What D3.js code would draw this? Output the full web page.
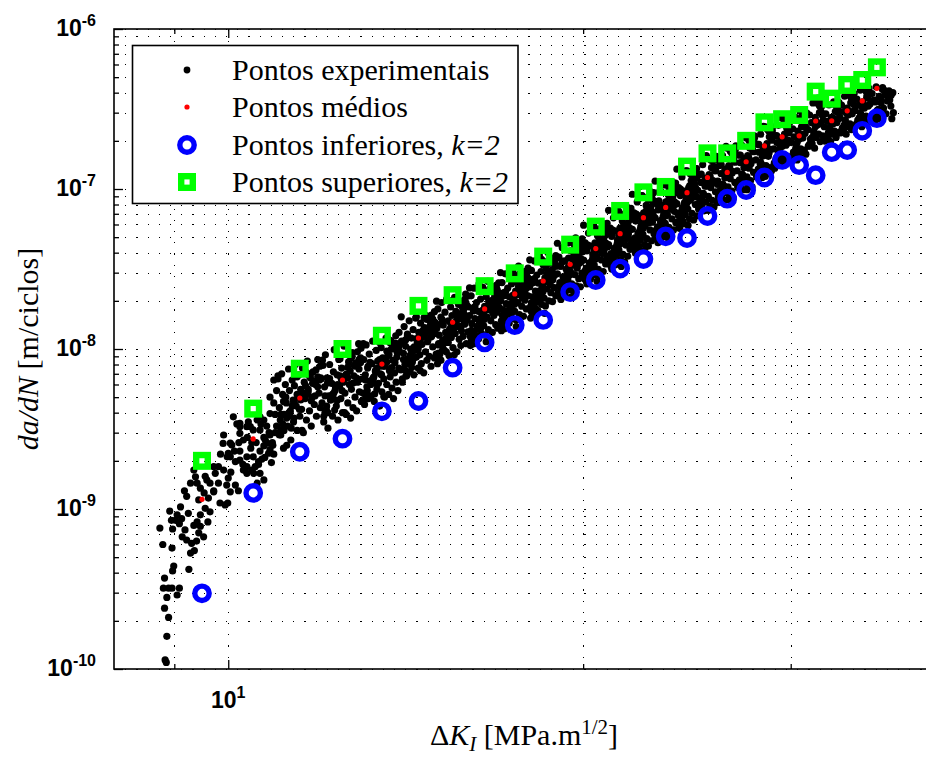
<!DOCTYPE html>
<html lang="pt">
<head>
<meta charset="utf-8">
<title>da/dN x Delta K</title>
<script src="https://cdn.jsdelivr.net/npm/d3@7"></script>
<style>
    body { margin: 0; background: #fff; }
    svg { display: block; }
</style>
</head>
<body>
<script>

    // bin centres (MPa.m^1/2) for the summary points
    var dkBins = [9.5, 10.5, 11.5, 12.5, 13.5, 14.5, 15.5, 16.5, 17.5, 18.5, 19.5, 20.5, 21.5, 22.5,
        23.5, 24.5, 25.5, 26.5, 27.5, 28.5, 29.5, 30.5, 31.5, 32.5, 33.5, 34.5, 35.5];

    // Pontos medios (red)
    var meanVals = [1.15e-9, 2.74e-9, 4.94e-9, 6.40e-9, 8.05e-9, 1.17e-8, 1.47e-8, 1.78e-8, 2.21e-8,
        2.66e-8, 3.38e-8, 4.24e-8, 5.26e-8, 6.62e-8, 7.67e-8, 9.48e-8, 1.18e-7, 1.27e-7, 1.48e-7,
        1.86e-7, 2.12e-7, 2.15e-7, 2.66e-7, 2.67e-7, 3.08e-7, 3.55e-7, 4.26e-7];

    // Pontos inferiores, k=2 (blue)
    var lowerVals = [2.97e-10, 1.26e-9, 2.28e-9, 2.75e-9, 4.08e-9, 4.73e-9, 7.64e-9, 1.10e-8, 1.41e-8,
        1.52e-8, 2.27e-8, 2.70e-8, 3.18e-8, 3.65e-8, 5.06e-8, 4.94e-8, 6.78e-8, 8.70e-8, 9.86e-8,
        1.18e-7, 1.52e-7, 1.41e-7, 1.22e-7, 1.70e-7, 1.75e-7, 2.31e-7, 2.77e-7];

    // Pontos superiores, k=2 (green)
    var upperVals = [2.0e-9, 4.24e-9, 7.53e-9, 1.0e-8, 1.21e-8, 1.86e-8, 2.17e-8, 2.47e-8, 2.97e-8,
        3.78e-8, 4.49e-8, 5.82e-8, 7.29e-8, 9.53e-8, 1.03e-7, 1.38e-7, 1.67e-7, 1.67e-7, 2.0e-7,
        2.61e-7, 2.73e-7, 2.90e-7, 4.06e-7, 3.67e-7, 4.47e-7, 4.80e-7, 5.76e-7];

    // Pontos experimentais [dK, da/dN]
    var expLow = [
        [8.75,7.6e-10],[8.80,6.0e-10],[8.83,3.7e-10],[8.81,3.2e-10],[8.87,2.8e-10],[8.83,2.4e-10],[8.90,2.1e-10],
        [8.87,1.6e-10],[8.84,1.14e-10],[8.86,1.10e-10],[8.92,9.7e-10],[8.95,8.5e-10],[8.97,7.5e-10],[8.96,5.7e-10],
        [8.99,4.4e-10],[8.97,4.1e-10],[8.90,3.2e-10],[8.96,3.2e-10],
        [9.02,8.5e-10],[9.05,9.2e-10],[9.05,2.9e-10],[9.09,3.2e-10],[9.11,1.03e-9],[9.25,9.4e-10],[9.13,8.7e-10],
        [9.09,8.1e-10],[9.19,7.4e-10],[9.14,6.7e-10],[9.22,6.4e-10],[9.31,6.1e-10],[9.36,5.5e-10],[9.29,5.3e-10],
        [9.26,4.2e-10],[9.40,6.3e-10],[9.44,7.1e-10],[9.47,7.8e-10],[9.53,6.7e-10],[9.61,8.3e-10],[9.65,9.6e-10],
        [9.56,1.01e-9],[9.47,9.2e-10],[9.41,8.3e-10],[9.35,7.9e-10],[9.44,1.14e-9],[9.54,1.26e-9],[9.62,1.17e-9],
        [9.72,1.30e-9],[9.47,1.35e-9],[9.41,1.45e-9],[9.29,1.45e-9],[9.38,1.59e-9],[9.59,1.52e-9],[9.75,1.67e-9],
        [9.81,1.84e-9],[9.91,1.75e-9],[9.97,1.41e-9],[9.84,1.09e-9],[9.94,1.06e-9],[9.35,1.75e-9],[9.72,1.84e-9],
        [9.56,1.6e-9],[9.65,1.45e-9],[9.81,1.45e-9],[9.72,1.28e-9],[9.99,1.09e-9],[9.91,2.9e-9],[9.90,2.57e-9],
        [9.98,2.12e-9],[9.85,2.2e-9],[9.22,1.2e-9],[9.18,1.3e-9]
    ];

    var exp10to13 = [
        [10.07,2.51e-9],[10.00,2.23e-9],[10.04,2.12e-9],[10.23,2.02e-9],[10.37,1.84e-9],[10.54,1.84e-9],[10.61,1.98e-9],
        [10.51,1.67e-9],[10.37,1.67e-9],[10.14,1.41e-9],[10.20,1.30e-9],[10.04,1.28e-9],[10.00,1.56e-9],[10.23,3.27e-9],
        [10.44,3.27e-9],[10.40,3.5e-9],[10.17,3.4e-9],[10.64,3.12e-9],[10.72,2.48e-9],[10.82,2.23e-9],[10.93,2.2e-9],
        [10.64,2.3e-9],[10.75,2.7e-9],[10.85,2.9e-9],[10.99,3.3e-9],[10.10,3.77e-9],[10.23,3.43e-9],[10.04,2.58e-9],
        [10.14,1.98e-9],[10.23,2.3e-9],[10.37,2.12e-9],[10.50,2.12e-9],[10.61,1.9e-9],[10.64,1.67e-9],[10.47,1.75e-9],
        [10.30,1.75e-9],[10.72,1.52e-9],[10.58,1.45e-9],[10.23,2.97e-9],[10.37,3.27e-9],[10.50,3.12e-9],[10.72,2.8e-9],
        [10.79,2.58e-9],[10.85,2.35e-9],[10.72,3.6e-9],[10.85,3.95e-9],[10.64,3.77e-9],[10.93,4.6e-9],[10.85,5.0e-9],
        [10.99,5.5e-9],[10.93,6.4e-9],[10.30,2.7e-9],[10.45,2.4e-9],[10.56,2.6e-9],[10.68,2.05e-9],[10.90,2.6e-9],
        [10.96,3.0e-9],[10.78,3.3e-9],[10.88,1.95e-9],
        [11.02,6.8e-9],[11.05,4.3e-9],[11.07,3.6e-9],[11.08,2.9e-9],[11.10,7.0e-9],[11.12,5.2e-9],[11.14,2.4e-9],
        [11.15,3.9e-9],[11.18,6.0e-9],[11.20,4.6e-9],[11.21,2.5e-9],[11.23,3.3e-9],[11.25,7.5e-9],[11.27,5.5e-9],
        [11.28,4.0e-9],[11.30,2.7e-9],[11.33,6.4e-9],[11.35,4.8e-9],[11.36,3.5e-9],[11.38,5.9e-9],[11.40,8.0e-9],
        [11.42,4.4e-9],[11.44,3.1e-9],[11.46,5.1e-9],[11.48,6.9e-9],[11.50,3.8e-9],[11.52,5.6e-9],[11.54,4.2e-9],
        [11.56,7.6e-9],[11.58,3.0e-9],[11.60,6.2e-9],[11.62,4.9e-9],[11.65,3.6e-9],[11.67,8.4e-9],[11.69,5.4e-9],
        [11.72,4.1e-9],[11.74,6.6e-9],[11.76,3.3e-9],[11.78,5.0e-9],[11.80,7.2e-9],[11.83,4.5e-9],[11.86,6.0e-9],
        [11.88,3.8e-9],[11.91,8.6e-9],[11.94,5.3e-9],[11.97,4.3e-9],[11.99,6.5e-9],
        [12.01,4.6e-9],[12.03,7.9e-9],[12.05,3.5e-9],[12.07,5.8e-9],[12.09,9.2e-9],[12.11,4.2e-9],[12.13,6.6e-9],
        [12.15,3.2e-9],[12.17,5.1e-9],[12.19,8.0e-9],[12.22,4.8e-9],[12.24,6.1e-9],[12.26,3.8e-9],[12.28,7.2e-9],
        [12.30,9.9e-9],[12.32,5.5e-9],[12.35,4.4e-9],[12.37,6.9e-9],[12.39,3.6e-9],[12.41,8.6e-9],[12.43,5.9e-9],
        [12.46,4.9e-9],[12.48,7.6e-9],[12.50,4.0e-9],[12.52,6.3e-9],[12.54,1.04e-8],[12.56,5.3e-9],[12.59,3.9e-9],
        [12.61,7.0e-9],[12.63,4.6e-9],[12.65,8.3e-9],[12.67,6.0e-9],[12.70,3.7e-9],[12.72,5.6e-9],[12.74,9.5e-9],
        [12.76,4.3e-9],[12.78,6.8e-9],[12.81,5.0e-9],[12.83,7.8e-9],[12.85,4.1e-9],[12.87,6.2e-9],[12.90,1.08e-8],
        [12.92,5.4e-9],[12.95,8.8e-9],[12.97,4.7e-9],[12.99,6.5e-9]
    ];

    var exp13to16 = [
        [13.01,5.3e-9],[13.03,8.6e-9],[13.05,4.5e-9],[13.07,6.9e-9],[13.09,1.06e-8],[13.11,5.8e-9],[13.13,7.6e-9],
        [13.15,4.9e-9],[13.17,9.3e-9],[13.20,6.3e-9],[13.22,5.1e-9],[13.24,8.1e-9],[13.26,1.12e-8],[13.28,6.6e-9],
        [13.30,4.7e-9],[13.33,7.3e-9],[13.35,9.8e-9],[13.37,5.6e-9],[13.39,8.4e-9],[13.41,6.1e-9],[13.44,4.4e-9],
        [13.46,7.0e-9],[13.48,1.02e-8],[13.50,5.4e-9],[13.52,8.8e-9],[13.55,6.5e-9],[13.57,5.0e-9],[13.59,7.8e-9],
        [13.61,1.17e-8],[13.63,6.0e-9],[13.66,9.1e-9],[13.68,5.2e-9],[13.70,7.3e-9],[13.72,6.7e-9],[13.75,1.0e-8],
        [13.77,5.7e-9],[13.79,8.5e-9],[13.81,4.9e-9],[13.84,7.1e-9],[13.86,1.09e-8],[13.88,6.2e-9],[13.90,8.9e-9],
        [13.93,5.5e-9],[13.95,7.6e-9],[13.98,9.6e-9],
        [14.01,7.4e-9],[14.03,1.12e-8],[14.05,6.2e-9],[14.08,9.4e-9],[14.10,1.38e-8],[14.12,8.0e-9],[14.14,1.04e-8],
        [14.17,6.8e-9],[14.19,1.24e-8],[14.21,8.7e-9],[14.24,1.5e-8],[14.26,7.2e-9],[14.28,1.0e-8],[14.30,1.17e-8],
        [14.33,8.3e-9],[14.35,1.32e-8],[14.37,6.9e-9],[14.40,9.8e-9],[14.42,1.56e-8],[14.44,8.9e-9],[14.47,1.1e-8],
        [14.49,7.6e-9],[14.51,1.27e-8],[14.54,9.2e-9],[14.56,1.45e-8],[14.58,8.1e-9],[14.60,1.07e-8],[14.63,1.2e-8],
        [14.65,7.1e-9],[14.67,1.36e-8],[14.70,9.6e-9],[14.72,1.62e-8],[14.74,8.5e-9],[14.77,1.14e-8],[14.79,1.3e-8],
        [14.81,9.0e-9],[14.84,1.48e-8],[14.86,7.8e-9],[14.88,1.2e-8],[14.91,1.03e-8],[14.93,1.4e-8],[14.96,8.8e-9],
        [14.98,1.25e-8],
        [15.01,9.3e-9],[15.03,1.35e-8],[15.06,1.78e-8],[15.08,1.06e-8],[15.10,1.22e-8],[15.13,8.6e-9],[15.15,1.58e-8],
        [15.17,1.95e-8],[15.20,1.13e-8],[15.22,1.41e-8],[15.25,9.8e-9],[15.27,1.7e-8],[15.29,1.27e-8],[15.32,2.05e-8],
        [15.34,1.1e-8],[15.37,1.5e-8],[15.39,9.1e-9],[15.41,1.33e-8],[15.44,1.83e-8],[15.46,1.18e-8],[15.48,1.62e-8],
        [15.51,1.02e-8],[15.53,1.45e-8],[15.56,2.1e-8],[15.58,1.25e-8],[15.60,1.72e-8],[15.63,9.6e-9],[15.65,1.38e-8],
        [15.68,1.9e-8],[15.70,1.15e-8],[15.72,1.55e-8],[15.75,1.05e-8],[15.77,1.3e-8],[15.80,1.82e-8],[15.82,1.2e-8],
        [15.85,1.65e-8],[15.87,1.43e-8],[15.90,2.2e-8],[15.92,1.08e-8],[15.95,1.52e-8],[15.97,1.28e-8]
    ];

    var exp16to20 = [
        [16.02,1.62e-8],[16.04,1.2e-8],[16.07,2.15e-8],[16.09,1.44e-8],[16.12,1.8e-8],[16.14,1.28e-8],[16.17,2.4e-8],
        [16.19,1.55e-8],[16.22,1.16e-8],[16.24,1.95e-8],[16.27,1.36e-8],[16.30,1.72e-8],[16.32,2.55e-8],[16.35,1.48e-8],
        [16.37,2.05e-8],[16.40,1.25e-8],[16.42,1.66e-8],[16.45,2.3e-8],[16.47,1.4e-8],[16.50,1.85e-8],[16.52,1.22e-8],
        [16.55,2.12e-8],[16.58,1.58e-8],[16.60,2.65e-8],[16.62,1.32e-8],[16.65,1.76e-8],[16.68,2.0e-8],[16.70,1.5e-8],
        [16.73,2.35e-8],[16.75,1.27e-8],[16.78,1.9e-8],[16.80,1.62e-8],[16.83,2.2e-8],[16.86,1.42e-8],[16.88,2.5e-8],
        [16.91,1.7e-8],[16.93,1.35e-8],[16.96,2.02e-8],[16.98,1.82e-8],
        [17.02,2.0e-8],[17.05,1.5e-8],[17.07,2.6e-8],[17.10,1.76e-8],[17.13,2.25e-8],[17.15,1.58e-8],[17.18,2.95e-8],
        [17.21,1.92e-8],[17.23,1.45e-8],[17.26,2.4e-8],[17.29,1.68e-8],[17.31,2.12e-8],[17.34,3.15e-8],[17.37,1.84e-8],
        [17.39,2.55e-8],[17.42,1.55e-8],[17.45,2.05e-8],[17.47,2.78e-8],[17.50,1.72e-8],[17.53,2.3e-8],[17.55,1.52e-8],
        [17.58,2.62e-8],[17.61,1.95e-8],[17.63,3.3e-8],[17.66,1.64e-8],[17.69,2.18e-8],[17.72,2.45e-8],[17.74,1.85e-8],
        [17.77,2.88e-8],[17.80,1.6e-8],[17.82,2.35e-8],[17.85,2.02e-8],[17.88,2.7e-8],[17.90,1.78e-8],[17.93,3.05e-8],
        [17.96,2.15e-8],[17.98,2.5e-8],
        [18.02,2.45e-8],[18.05,1.84e-8],[18.08,3.1e-8],[18.11,2.12e-8],[18.13,2.72e-8],[18.16,1.95e-8],[18.19,3.55e-8],
        [18.22,2.3e-8],[18.25,1.76e-8],[18.27,2.9e-8],[18.30,2.05e-8],[18.33,2.58e-8],[18.36,3.85e-8],[18.39,2.22e-8],
        [18.42,3.05e-8],[18.44,1.9e-8],[18.47,2.48e-8],[18.50,3.35e-8],[18.53,2.08e-8],[18.56,2.78e-8],[18.58,1.86e-8],
        [18.61,3.2e-8],[18.64,2.38e-8],[18.67,4.0e-8],[18.70,2.0e-8],[18.73,2.65e-8],[18.76,2.95e-8],[18.78,2.25e-8],
        [18.81,3.5e-8],[18.84,1.98e-8],[18.87,2.85e-8],[18.90,2.42e-8],[18.93,3.3e-8],[18.96,2.15e-8],[18.98,3.7e-8],
        [19.02,2.95e-8],[19.05,2.25e-8],[19.08,3.75e-8],[19.11,2.6e-8],[19.14,3.3e-8],[19.17,2.4e-8],[19.20,4.3e-8],
        [19.23,2.82e-8],[19.26,2.2e-8],[19.29,3.55e-8],[19.32,2.5e-8],[19.35,3.15e-8],[19.38,4.7e-8],[19.41,2.72e-8],
        [19.44,3.7e-8],[19.47,2.35e-8],[19.50,3.05e-8],[19.53,4.1e-8],[19.56,2.55e-8],[19.59,3.4e-8],[19.62,2.3e-8],
        [19.65,3.9e-8],[19.68,2.92e-8],[19.71,4.95e-8],[19.74,2.48e-8],[19.77,3.25e-8],[19.80,3.6e-8],[19.83,2.75e-8],
        [19.86,4.25e-8],[19.89,2.45e-8],[19.92,3.5e-8],[19.95,2.98e-8],[19.98,4.05e-8]
    ];

    var exp20to25 = [
        [20.02,3.6e-8],[20.05,2.8e-8],[20.08,4.6e-8],[20.12,3.2e-8],[20.15,4.1e-8],[20.18,2.95e-8],[20.21,5.3e-8],
        [20.25,3.45e-8],[20.28,2.72e-8],[20.31,4.4e-8],[20.34,3.1e-8],[20.38,3.9e-8],[20.41,5.8e-8],[20.44,3.35e-8],
        [20.47,4.6e-8],[20.51,2.9e-8],[20.54,3.8e-8],[20.57,5.1e-8],[20.60,3.15e-8],[20.64,4.25e-8],[20.67,2.85e-8],
        [20.70,4.85e-8],[20.73,3.6e-8],[20.77,6.1e-8],[20.80,3.05e-8],[20.83,4.0e-8],[20.86,4.5e-8],[20.90,3.4e-8],
        [20.93,5.4e-8],[20.96,3.7e-8],[20.99,4.35e-8],
        [21.02,4.5e-8],[21.05,3.45e-8],[21.09,5.7e-8],[21.12,3.95e-8],[21.15,5.05e-8],[21.19,3.65e-8],[21.22,6.6e-8],
        [21.25,4.25e-8],[21.29,3.35e-8],[21.32,5.45e-8],[21.35,3.85e-8],[21.39,4.8e-8],[21.42,7.3e-8],[21.45,4.15e-8],
        [21.49,5.7e-8],[21.52,3.6e-8],[21.55,4.7e-8],[21.59,6.3e-8],[21.62,3.9e-8],[21.65,5.25e-8],[21.69,3.5e-8],
        [21.72,6.0e-8],[21.75,4.45e-8],[21.79,7.7e-8],[21.82,3.8e-8],[21.85,4.95e-8],[21.89,5.55e-8],[21.92,4.2e-8],
        [21.95,6.7e-8],[21.98,4.6e-8],
        [22.02,5.6e-8],[22.06,4.3e-8],[22.09,7.1e-8],[22.13,4.95e-8],[22.16,6.3e-8],[22.20,4.55e-8],[22.23,8.3e-8],
        [22.27,5.3e-8],[22.30,4.2e-8],[22.34,6.8e-8],[22.37,4.8e-8],[22.41,6.0e-8],[22.44,9.1e-8],[22.48,5.2e-8],
        [22.51,7.1e-8],[22.55,4.5e-8],[22.58,5.9e-8],[22.62,7.9e-8],[22.65,4.9e-8],[22.69,6.5e-8],[22.72,4.4e-8],
        [22.76,7.5e-8],[22.79,5.55e-8],[22.83,9.6e-8],[22.86,4.75e-8],[22.90,6.2e-8],[22.93,6.9e-8],[22.97,5.25e-8],
        [22.99,8.4e-8],
        [23.02,6.6e-8],[23.06,5.1e-8],[23.09,8.3e-8],[23.13,5.8e-8],[23.16,7.4e-8],[23.20,5.35e-8],[23.23,9.7e-8],
        [23.27,6.2e-8],[23.30,4.95e-8],[23.34,7.9e-8],[23.37,5.6e-8],[23.41,7.0e-8],[23.44,1.06e-7],[23.48,6.1e-8],
        [23.51,8.3e-8],[23.55,5.3e-8],[23.58,6.9e-8],[23.62,9.2e-8],[23.65,5.75e-8],[23.69,7.6e-8],[23.72,5.2e-8],
        [23.76,8.8e-8],[23.79,6.5e-8],[23.83,1.1e-7],[23.86,5.55e-8],[23.90,7.25e-8],[23.93,8.0e-8],[23.97,6.15e-8],
        [24.02,8.1e-8],[24.06,6.2e-8],[24.10,1.02e-7],[24.14,7.1e-8],[24.18,9.1e-8],[24.22,6.5e-8],[24.26,1.19e-7],
        [24.30,7.6e-8],[24.34,6.05e-8],[24.38,9.7e-8],[24.42,6.9e-8],[24.46,8.6e-8],[24.50,1.3e-7],[24.54,7.5e-8],
        [24.58,1.02e-7],[24.62,6.5e-8],[24.66,8.5e-8],[24.70,1.13e-7],[24.74,7.05e-8],[24.78,9.4e-8],[24.82,6.4e-8],
        [24.86,1.08e-7],[24.90,8.0e-8],[24.94,1.34e-7],[24.97,6.8e-8],[24.99,8.9e-8]
    ];

    var exp25to30 = [
        [25.02,9.8e-8],[25.06,7.5e-8],[25.10,1.23e-7],[25.14,8.6e-8],[25.18,1.1e-7],[25.22,7.9e-8],[25.26,1.42e-7],
        [25.30,9.2e-8],[25.34,7.3e-8],[25.38,1.17e-7],[25.42,8.3e-8],[25.46,1.04e-7],[25.50,1.56e-7],[25.54,9.0e-8],
        [25.58,1.23e-7],[25.62,7.8e-8],[25.66,1.02e-7],[25.70,1.36e-7],[25.74,8.5e-8],[25.78,1.13e-7],[25.82,7.7e-8],
        [25.86,1.3e-7],[25.90,9.6e-8],[25.94,1.6e-7],[25.97,8.2e-8],[25.99,1.07e-7],
        [26.02,1.12e-7],[26.06,8.7e-8],[26.10,1.4e-7],[26.14,9.8e-8],[26.18,1.25e-7],[26.22,9.0e-8],[26.26,1.62e-7],
        [26.30,1.05e-7],[26.34,8.5e-8],[26.38,1.33e-7],[26.42,9.5e-8],[26.46,1.18e-7],[26.50,1.8e-7],[26.54,1.03e-7],
        [26.58,1.4e-7],[26.62,8.9e-8],[26.66,1.16e-7],[26.70,1.55e-7],[26.74,9.7e-8],[26.78,1.29e-7],[26.82,8.8e-8],
        [26.86,1.48e-7],[26.90,1.1e-7],[26.95,1.86e-7],
        [27.02,1.3e-7],[27.06,1.02e-7],[27.10,1.63e-7],[27.14,1.14e-7],[27.18,1.46e-7],[27.22,1.05e-7],[27.26,1.88e-7],
        [27.30,1.22e-7],[27.34,9.9e-8],[27.38,1.55e-7],[27.42,1.11e-7],[27.46,1.37e-7],[27.50,2.08e-7],[27.54,1.19e-7],
        [27.58,1.62e-7],[27.62,1.04e-7],[27.66,1.35e-7],[27.70,1.8e-7],[27.74,1.13e-7],[27.78,1.5e-7],[27.82,1.03e-7],
        [27.86,1.72e-7],[27.90,1.27e-7],[27.95,2.15e-7],
        [28.03,1.52e-7],[28.07,1.2e-7],[28.12,1.9e-7],[28.16,1.33e-7],[28.20,1.7e-7],[28.25,1.23e-7],[28.29,2.2e-7],
        [28.33,1.43e-7],[28.38,1.18e-7],[28.42,1.82e-7],[28.46,1.31e-7],[28.51,1.62e-7],[28.55,2.45e-7],[28.59,1.4e-7],
        [28.64,1.92e-7],[28.68,1.25e-7],[28.72,1.6e-7],[28.77,2.12e-7],[28.81,1.36e-7],[28.85,1.77e-7],[28.90,1.3e-7],
        [28.94,2.3e-7],
        [29.03,1.78e-7],[29.07,1.45e-7],[29.12,2.15e-7],[29.16,1.56e-7],[29.20,1.95e-7],[29.25,1.48e-7],[29.29,2.5e-7],
        [29.33,1.68e-7],[29.38,1.42e-7],[29.42,2.08e-7],[29.46,1.55e-7],[29.51,1.85e-7],[29.55,2.75e-7],[29.59,1.64e-7],
        [29.64,2.2e-7],[29.68,1.5e-7],[29.72,1.88e-7],[29.77,2.4e-7],[29.81,1.6e-7],[29.85,2.02e-7],[29.90,1.52e-7],
        [29.94,2.6e-7]
    ];

    var exp30to37 = [
        [30.03,1.95e-7],[30.07,1.55e-7],[30.12,2.38e-7],[30.16,1.7e-7],[30.20,2.12e-7],[30.25,1.6e-7],[30.29,2.8e-7],
        [30.33,1.85e-7],[30.38,1.52e-7],[30.42,2.3e-7],[30.46,1.68e-7],[30.51,2.05e-7],[30.55,3.1e-7],[30.59,1.78e-7],
        [30.64,2.45e-7],[30.68,1.62e-7],[30.72,2.08e-7],[30.77,2.7e-7],[30.81,1.75e-7],[30.85,2.22e-7],[30.90,1.65e-7],
        [30.94,2.95e-7],
        [31.03,2.35e-7],[31.08,1.85e-7],[31.13,2.9e-7],[31.18,2.05e-7],[31.23,2.6e-7],[31.28,1.92e-7],[31.33,3.45e-7],
        [31.38,2.25e-7],[31.43,1.8e-7],[31.48,2.8e-7],[31.53,2.1e-7],[31.58,2.5e-7],[31.63,3.7e-7],[31.68,2.2e-7],
        [31.73,3.0e-7],[31.78,1.98e-7],[31.83,2.55e-7],[31.88,3.3e-7],[31.93,2.15e-7],[31.97,2.7e-7],
        [32.03,2.45e-7],[32.08,2.0e-7],[32.13,2.95e-7],[32.18,2.15e-7],[32.23,2.65e-7],[32.28,2.05e-7],[32.33,3.35e-7],
        [32.38,2.35e-7],[32.43,1.98e-7],[32.48,2.8e-7],[32.53,2.2e-7],[32.58,2.55e-7],[32.63,3.5e-7],[32.68,2.3e-7],
        [32.73,3.05e-7],[32.78,2.1e-7],[32.83,2.6e-7],[32.88,3.2e-7],[32.93,2.25e-7],[32.97,2.75e-7],
        [33.03,2.8e-7],[33.08,2.25e-7],[33.13,3.35e-7],[33.18,2.4e-7],[33.23,3.05e-7],[33.28,2.28e-7],[33.33,3.8e-7],
        [33.38,2.6e-7],[33.43,2.2e-7],[33.48,3.2e-7],[33.53,2.45e-7],[33.58,2.9e-7],[33.63,4.0e-7],[33.68,2.55e-7],
        [33.73,3.45e-7],[33.78,2.35e-7],[33.83,2.95e-7],[33.88,3.65e-7],[33.93,2.5e-7],[33.97,3.1e-7],
        [34.03,3.1e-7],[34.09,2.5e-7],[34.14,3.65e-7],[34.20,2.7e-7],[34.25,3.35e-7],[34.31,2.55e-7],[34.36,4.15e-7],
        [34.42,2.9e-7],[34.47,2.45e-7],[34.53,3.5e-7],[34.58,2.75e-7],[34.64,3.2e-7],[34.69,4.3e-7],[34.75,2.85e-7],
        [34.80,3.75e-7],[34.86,2.6e-7],[34.91,3.3e-7],[34.97,4.0e-7],
        [35.03,3.4e-7],[35.10,2.7e-7],[35.17,3.95e-7],[35.24,2.9e-7],[35.31,3.6e-7],[35.38,2.65e-7],[35.45,4.35e-7],
        [35.52,3.1e-7],[35.59,2.75e-7],[35.66,3.8e-7],[35.73,3.0e-7],[35.80,3.45e-7],[35.88,4.2e-7],[35.96,3.2e-7],
        [36.05,3.9e-7],[36.14,2.95e-7],[36.24,3.55e-7],[36.35,4.1e-7],[36.48,3.3e-7],[36.62,4.0e-7],[36.66,3.0e-7],
        [36.55,2.75e-7]
    ];

    // second pass of readings, filling the dense part of the band
    var expDense = [
        [10.47,2.6e-9],[10.12,2.3e-9],[10.83,3.0e-9],[10.29,1.9e-9],[10.66,3.4e-9],[10.05,1.7e-9],[10.91,2.5e-9],
        [10.38,2.8e-9],[10.74,2.1e-9],[10.21,2.6e-9],[10.58,3.6e-9],[10.96,3.9e-9],
        [11.47,5.0e-9],[11.12,3.4e-9],[11.83,6.3e-9],[11.29,4.1e-9],[11.66,7.1e-9],[11.05,2.9e-9],[11.91,5.8e-9],
        [11.38,4.6e-9],[11.74,6.9e-9],[11.21,3.7e-9],[11.58,5.3e-9],[11.96,7.8e-9],[11.33,4.4e-9],[11.69,5.6e-9],
        [11.15,3.1e-9],[11.52,4.8e-9],[11.87,7.4e-9],[11.08,3.9e-9],[11.44,5.2e-9],[11.79,6.1e-9],[11.26,4.0e-9],
        [11.63,5.9e-9],[11.98,6.6e-9],[11.35,4.5e-9],
        [12.47,6.5e-9],[12.12,4.4e-9],[12.83,8.2e-9],[12.29,5.3e-9],[12.66,9.2e-9],[12.05,3.8e-9],[12.91,7.5e-9],
        [12.38,6.0e-9],[12.74,9.0e-9],[12.21,4.8e-9],[12.58,6.9e-9],[12.96,1.01e-8],[12.33,5.7e-9],[12.69,7.3e-9],
        [12.15,4.0e-9],[12.52,6.2e-9],[12.87,9.6e-9],[12.08,5.1e-9],[12.44,6.8e-9],[12.79,7.9e-9],[12.26,5.2e-9],
        [12.63,7.7e-9],[12.98,8.6e-9],[12.35,5.9e-9],
        [13.47,8.2e-9],[13.12,5.5e-9],[13.83,1.03e-8],[13.29,6.7e-9],[13.66,1.16e-8],[13.05,4.8e-9],[13.91,9.5e-9],
        [13.38,7.6e-9],[13.74,1.13e-8],[13.21,6.0e-9],[13.58,8.7e-9],[13.96,1.27e-8],[13.33,7.2e-9],[13.69,9.2e-9],
        [13.15,5.0e-9],[13.52,7.8e-9],[13.87,1.21e-8],[13.08,6.4e-9],[13.44,8.6e-9],[13.79,1.0e-8],[13.26,6.5e-9],
        [13.63,9.7e-9],[13.98,1.08e-8],[13.35,7.4e-9],
        [14.47,1.1e-8],[14.12,7.4e-9],[14.83,1.39e-8],[14.29,9.0e-9],[14.66,1.57e-8],[14.05,6.5e-9],[14.91,1.28e-8],
        [14.38,1.03e-8],[14.74,1.53e-8],[14.21,8.1e-9],[14.58,1.17e-8],[14.96,1.71e-8],[14.33,9.7e-9],[14.69,1.24e-8],
        [14.15,6.8e-9],[14.52,1.05e-8],[14.87,1.63e-8],[14.08,8.6e-9],[14.44,1.16e-8],[14.79,1.35e-8],[14.26,8.8e-9],
        [14.63,1.31e-8],[14.98,1.46e-8],[14.35,1.0e-8],
        [15.47,1.38e-8],[15.12,9.3e-9],[15.83,1.74e-8],[15.29,1.13e-8],[15.66,1.96e-8],[15.05,8.1e-9],[15.91,1.6e-8],
        [15.38,1.29e-8],[15.74,1.91e-8],[15.21,1.01e-8],[15.58,1.46e-8],[15.96,2.14e-8],[15.33,1.21e-8],[15.69,1.55e-8],
        [15.15,8.5e-9],[15.52,1.31e-8],[15.87,2.04e-8],[15.08,1.08e-8],[15.44,1.45e-8],[15.79,1.69e-8],[15.26,1.1e-8],
        [15.63,1.64e-8],[15.98,1.83e-8],[15.35,1.25e-8],
        [16.47,1.67e-8],[16.12,1.12e-8],[16.83,2.1e-8],[16.29,1.37e-8],[16.66,2.37e-8],[16.05,1.05e-8],[16.91,1.94e-8],
        [16.38,1.56e-8],[16.74,2.31e-8],[16.21,1.22e-8],[16.58,1.77e-8],[16.96,2.59e-8],[16.33,1.46e-8],[16.69,1.88e-8],
        [16.15,1.08e-8],[16.52,1.59e-8],[16.87,2.47e-8],[16.08,1.31e-8],[16.44,1.75e-8],[16.79,2.04e-8],[16.26,1.33e-8],
        [16.63,1.98e-8],[16.98,2.21e-8],[16.35,1.51e-8],
        [17.47,2.07e-8],[17.12,1.39e-8],[17.83,2.6e-8],[17.29,1.7e-8],[17.66,2.94e-8],[17.05,1.3e-8],[17.91,2.41e-8],
        [17.38,1.93e-8],[17.74,2.86e-8],[17.21,1.51e-8],[17.58,2.19e-8],[17.96,3.2e-8],[17.33,1.81e-8],[17.69,2.33e-8],
        [17.15,1.34e-8],[17.52,1.97e-8],[17.87,3.06e-8],[17.08,1.62e-8],[17.44,2.17e-8],[17.79,2.53e-8],[17.26,1.65e-8],
        [17.63,2.46e-8],[17.98,2.74e-8],[17.35,1.87e-8],
        [18.47,2.48e-8],[18.12,1.67e-8],[18.83,3.12e-8],[18.29,2.04e-8],[18.66,3.53e-8],[18.05,1.56e-8],[18.91,2.89e-8],
        [18.38,2.32e-8],[18.74,3.43e-8],[18.21,1.81e-8],[18.58,2.63e-8],[18.96,3.84e-8],[18.33,2.17e-8],[18.69,2.8e-8],
        [18.15,1.61e-8],[18.52,2.36e-8],[18.87,3.67e-8],[18.08,1.94e-8],[18.44,2.6e-8],[18.79,3.04e-8],[18.26,1.98e-8],
        [18.63,2.95e-8],[18.98,3.29e-8],[18.35,2.24e-8],
        [19.47,3.15e-8],[19.12,2.12e-8],[19.83,3.96e-8],[19.29,2.59e-8],[19.66,4.48e-8],[19.05,2.2e-8],[19.91,3.67e-8],
        [19.38,2.95e-8],[19.74,4.36e-8],[19.21,2.3e-8],[19.58,3.34e-8],[19.96,4.88e-8],[19.33,2.76e-8],[19.69,3.56e-8],
        [19.15,2.04e-8],[19.52,3.0e-8],[19.87,4.66e-8],[19.08,2.46e-8],[19.44,3.3e-8],[19.79,3.86e-8],[19.26,2.51e-8],
        [19.63,3.75e-8],[19.98,4.18e-8],[19.35,2.84e-8],
        [20.47,3.94e-8],[20.12,2.65e-8],[20.83,4.95e-8],[20.29,3.24e-8],[20.66,5.6e-8],[20.05,2.75e-8],[20.91,4.59e-8],
        [20.38,3.69e-8],[20.74,5.45e-8],[20.21,2.88e-8],[20.58,4.18e-8],[20.96,6.1e-8],[20.33,3.45e-8],[20.69,4.45e-8],
        [20.15,2.55e-8],[20.52,3.75e-8],[20.87,5.83e-8],[20.08,3.08e-8],[20.44,4.13e-8],[20.79,4.83e-8],[20.26,3.14e-8],
        [20.63,4.69e-8],[20.98,5.23e-8],[20.35,3.55e-8],
        [21.47,4.89e-8],[21.12,3.29e-8],[21.83,6.14e-8],[21.29,4.02e-8],[21.66,6.94e-8],[21.05,3.41e-8],[21.91,5.69e-8],
        [21.38,4.58e-8],[21.74,6.76e-8],[21.21,3.57e-8],[21.58,5.18e-8],[21.96,7.56e-8],[21.33,4.28e-8],[21.69,5.52e-8],
        [21.15,3.16e-8],[21.52,4.65e-8],[21.87,7.23e-8],[21.08,3.82e-8],[21.44,5.12e-8],[21.79,5.99e-8],[21.26,3.89e-8],
        [21.63,5.82e-8],[21.98,6.49e-8],[21.35,4.4e-8],
        [22.47,6.16e-8],[22.12,4.15e-8],[22.83,7.74e-8],[22.29,5.07e-8],[22.66,8.74e-8],[22.05,4.3e-8],[22.91,7.17e-8],
        [22.38,5.77e-8],[22.74,8.52e-8],[22.21,4.5e-8],[22.58,6.53e-8],[22.96,9.5e-8],[22.33,5.39e-8],[22.69,6.96e-8],
        [22.15,3.98e-8],[22.52,5.86e-8],[22.87,9.1e-8],[22.08,4.81e-8],[22.44,6.45e-8],[22.79,7.55e-8],[22.26,4.9e-8],
        [22.63,7.33e-8],[22.98,8.18e-8],[22.35,5.54e-8],
        [23.47,7.15e-8],[23.12,4.81e-8],[23.83,8.98e-8],[23.29,5.88e-8],[23.66,1.01e-7],[23.05,4.99e-8],[23.91,8.32e-8],
        [23.38,6.69e-8],[23.74,9.88e-8],[23.21,5.22e-8],[23.58,7.57e-8],[23.96,1.09e-7],[23.33,6.25e-8],[23.69,8.07e-8],
        [23.15,4.62e-8],[23.52,6.8e-8],[23.87,1.05e-7],[23.08,5.58e-8],[23.44,7.48e-8],[23.79,8.76e-8],[23.26,5.68e-8],
        [23.63,8.5e-8],[23.98,9.49e-8],[23.35,6.43e-8],
        [24.47,8.8e-8],[24.12,5.92e-8],[24.83,1.1e-7],[24.29,7.23e-8],[24.66,1.24e-7],[24.05,6.14e-8],[24.91,1.02e-7],
        [24.38,8.23e-8],[24.74,1.22e-7],[24.21,6.42e-8],[24.58,9.31e-8],[24.96,1.34e-7],[24.33,7.69e-8],[24.69,9.93e-8],
        [24.15,5.68e-8],[24.52,8.36e-8],[24.87,1.29e-7],[24.08,6.86e-8],[24.44,9.2e-8],[24.79,1.08e-7],[24.26,6.99e-8],
        [24.63,1.05e-7],[24.98,1.17e-7],[24.35,7.91e-8],
        [25.47,1.1e-7],[25.12,7.9e-8],[25.83,1.38e-7],[25.29,9.4e-8],[25.66,1.52e-7],[25.05,8.1e-8],[25.91,1.3e-7],
        [25.38,1.04e-7],[25.74,1.5e-7],[25.21,8.6e-8],[25.58,1.2e-7],[25.96,1.58e-7],
        [26.47,1.24e-7],[26.12,9.2e-8],[26.83,1.55e-7],[26.29,1.06e-7],[26.66,1.72e-7],[26.05,9.0e-8],[26.91,1.47e-7],
        [26.38,1.17e-7],[26.74,1.68e-7],[26.21,9.7e-8],[26.58,1.35e-7],[26.96,1.82e-7],
        [27.47,1.45e-7],[27.12,1.07e-7],[27.83,1.8e-7],[27.29,1.24e-7],[27.66,2.0e-7],[27.05,1.05e-7],[27.91,1.71e-7],
        [27.38,1.36e-7],[27.74,1.95e-7],[27.21,1.13e-7],[27.58,1.57e-7],[27.96,2.1e-7],
        [28.47,1.72e-7],[28.12,1.28e-7],[28.83,2.14e-7],[28.29,1.47e-7],[28.66,2.36e-7],[28.05,1.24e-7],[28.91,2.02e-7],
        [28.38,1.6e-7],[28.74,2.3e-7],[28.21,1.33e-7],[28.58,1.85e-7],[28.96,2.45e-7],
        [29.47,1.92e-7],[29.12,1.5e-7],[29.83,2.38e-7],[29.29,1.66e-7],[29.66,2.62e-7],[29.05,1.45e-7],[29.91,2.25e-7],
        [29.38,1.8e-7],[29.74,2.55e-7],[29.21,1.52e-7],[29.58,2.05e-7],[29.96,2.72e-7],
        [30.47,2.08e-7],[30.12,1.58e-7],[30.83,2.55e-7],[30.29,1.78e-7],[30.66,2.85e-7],[30.05,1.55e-7],[30.91,2.42e-7],
        [30.38,1.95e-7],[30.74,2.75e-7],[30.21,1.64e-7],[30.58,2.2e-7],[30.96,2.98e-7],
        [31.47,2.45e-7],[31.12,1.9e-7],[31.83,3.05e-7],[31.29,2.1e-7],[31.66,3.4e-7],[31.05,1.86e-7],[31.91,2.88e-7],
        [31.38,2.3e-7],[31.74,3.3e-7],[31.21,1.96e-7],[31.58,2.62e-7],[31.96,3.55e-7],
        [32.47,2.6e-7],[32.12,2.05e-7],[32.83,3.15e-7],[32.29,2.25e-7],[32.66,3.4e-7],[32.05,2.0e-7],[32.91,3.0e-7],
        [32.38,2.42e-7],[32.74,3.35e-7],[32.21,2.12e-7],[32.58,2.78e-7],[32.96,3.48e-7],
        [33.47,2.95e-7],[33.12,2.3e-7],[33.83,3.55e-7],[33.29,2.5e-7],[33.66,3.85e-7],[33.05,2.25e-7],[33.91,3.38e-7],
        [33.38,2.7e-7],[33.74,3.75e-7],[33.21,2.4e-7],[33.58,3.1e-7],[33.96,3.95e-7],
        [34.47,3.25e-7],[34.12,2.55e-7],[34.83,3.9e-7],[34.29,2.78e-7],[34.66,4.2e-7],[34.05,2.5e-7],[34.91,3.7e-7],
        [34.38,2.98e-7],[34.74,4.1e-7],[34.21,2.62e-7],[34.58,3.4e-7],[34.96,4.25e-7],
        [35.4,3.5e-7],[35.1,2.7e-7],[36.2,3.9e-7],[35.5,2.95e-7],[35.9,4.3e-7],[35.05,2.75e-7],[36.4,3.6e-7],
        [35.6,3.15e-7],[36.0,4.15e-7],[35.3,2.85e-7],[35.8,3.7e-7],[36.5,3.85e-7]
    ];

    // third pass of readings
    var expDense2 = [
        [11.63,5.1e-9],[11.27,3.8e-9],[11.91,6.7e-9],[11.08,3.1e-9],[11.44,6.7e-9],[11.76,4.75e-9],[11.19,5.0e-9],
        [11.55,3.1e-9],[11.02,6.5e-9],[11.85,5.1e-9],[11.37,3.7e-9],[11.71,6.8e-9],[11.14,4.7e-9],[11.49,4.2e-9],
        [11.95,6.4e-9],[11.31,3.2e-9],
        [12.63,6.6e-9],[12.27,4.96e-9],[12.91,8.58e-9],[12.08,4.03e-9],[12.44,8.7e-9],[12.76,6.12e-9],[12.19,6.52e-9],
        [12.55,4.01e-9],[12.02,8.51e-9],[12.85,6.59e-9],[12.37,4.77e-9],[12.71,8.74e-9],[12.14,6.14e-9],[12.49,5.49e-9],
        [12.95,8.22e-9],[12.31,4.15e-9],
        [13.63,8.28e-9],[13.27,6.26e-9],[13.91,1.07e-8],[13.08,5.11e-9],[13.44,1.1e-8],[13.76,7.66e-9],[13.19,8.24e-9],
        [13.55,5.05e-9],[13.02,1.08e-8],[13.85,8.24e-9],[13.37,6.02e-9],[13.71,1.1e-8],[13.14,7.78e-9],[13.49,6.91e-9],
        [13.95,1.03e-8],[13.31,5.24e-9],
        [14.63,1.2e-8],[14.27,9.15e-9],[14.91,1.54e-8],[14.08,7.5e-9],[14.44,1.59e-8],[14.76,1.11e-8],[14.19,1.21e-8],
        [14.55,7.32e-9],[14.02,1.59e-8],[14.85,1.19e-8],[14.37,8.78e-9],[14.71,1.59e-8],[14.14,1.14e-8],[14.49,1.0e-8],
        [14.95,1.48e-8],[14.31,7.65e-9],
        [15.63,1.51e-8],[15.27,1.15e-8],[15.91,1.94e-8],[15.08,9.42e-9],[15.44,2.0e-8],[15.76,1.39e-8],[15.19,1.52e-8],
        [15.55,9.2e-9],[15.02,1.99e-8],[15.85,1.5e-8],[15.37,1.1e-8],[15.71,1.99e-8],[15.14,1.43e-8],[15.49,1.26e-8],
        [15.95,1.86e-8],[15.31,9.61e-9],
        [16.63,1.83e-8],[16.27,1.39e-8],[16.91,2.35e-8],[16.08,1.14e-8],[16.44,2.43e-8],[16.76,1.69e-8],[16.19,1.84e-8],
        [16.55,1.11e-8],[16.02,2.41e-8],[16.85,1.81e-8],[16.37,1.34e-8],[16.71,2.41e-8],[16.14,1.73e-8],[16.49,1.53e-8],
        [16.95,2.25e-8],[16.31,1.16e-8],
        [17.63,2.27e-8],[17.27,1.73e-8],[17.91,2.92e-8],[17.08,1.42e-8],[17.44,3.01e-8],[17.76,2.09e-8],[17.19,2.28e-8],
        [17.55,1.38e-8],[17.02,3.0e-8],[17.85,2.25e-8],[17.37,1.66e-8],[17.71,2.99e-8],[17.14,2.15e-8],[17.49,1.9e-8],
        [17.95,2.79e-8],[17.31,1.45e-8],
        [18.63,2.73e-8],[18.27,2.08e-8],[18.91,3.51e-8],[18.08,1.71e-8],[18.44,3.63e-8],[18.76,2.52e-8],[18.19,2.75e-8],
        [18.55,1.67e-8],[18.02,3.61e-8],[18.85,2.71e-8],[18.37,2.0e-8],[18.71,3.6e-8],[18.14,2.59e-8],[18.49,2.28e-8],
        [18.95,3.36e-8],[18.31,1.74e-8],
        [19.63,3.47e-8],[19.27,2.64e-8],[19.91,4.46e-8],[19.08,2.17e-8],[19.44,4.61e-8],[19.76,3.2e-8],[19.19,3.49e-8],
        [19.55,2.12e-8],[19.02,4.58e-8],[19.85,3.44e-8],[19.37,2.54e-8],[19.71,4.58e-8],[19.14,3.29e-8],[19.49,2.9e-8],
        [19.95,4.27e-8],[19.31,2.21e-8],
        [20.63,4.32e-8],[20.27,3.37e-8],[20.91,5.47e-8],[20.08,2.79e-8],[20.44,5.8e-8],[20.76,3.95e-8],[20.19,4.46e-8],
        [20.55,2.65e-8],[20.02,5.94e-8],[20.85,4.23e-8],[20.37,3.21e-8],[20.71,5.67e-8],[20.14,4.23e-8],[20.49,3.64e-8],
        [20.95,5.23e-8],[20.31,2.81e-8],
        [21.63,5.35e-8],[21.27,4.18e-8],[21.91,6.79e-8],[21.08,3.47e-8],[21.44,7.2e-8],[21.76,4.9e-8],[21.19,5.54e-8],
        [21.55,3.28e-8],[21.02,7.36e-8],[21.85,5.24e-8],[21.37,3.98e-8],[21.71,7.04e-8],[21.14,5.25e-8],[21.49,4.52e-8],
        [21.95,6.49e-8],[21.31,3.48e-8],
        [22.63,6.74e-8],[22.27,5.26e-8],[22.91,8.54e-8],[22.08,4.36e-8],[22.44,9.06e-8],[22.76,6.17e-8],[22.19,6.97e-8],
        [22.55,4.13e-8],[22.02,9.27e-8],[22.85,6.6e-8],[22.37,5.0e-8],[22.71,8.86e-8],[22.14,6.61e-8],[22.49,5.69e-8],
        [22.95,8.16e-8],[22.31,4.38e-8],
        [23.63,8.14e-8],[23.27,6.35e-8],[23.91,1.03e-7],[23.08,5.27e-8],[23.44,1.1e-7],[23.76,7.46e-8],[23.19,8.42e-8],
        [23.55,4.99e-8],[23.02,1.12e-7],[23.85,7.98e-8],[23.37,6.05e-8],[23.71,1.07e-7],[23.14,7.98e-8],[23.49,6.87e-8],
        [23.95,9.86e-8],[23.31,5.3e-8],
        [24.63,9.65e-8],[24.27,7.53e-8],[24.91,1.22e-7],[24.08,6.25e-8],[24.44,1.3e-7],[24.76,8.84e-8],[24.19,9.98e-8],
        [24.55,5.92e-8],[24.02,1.33e-7],[24.85,9.45e-8],[24.37,7.17e-8],[24.71,1.27e-7],[24.14,9.46e-8],[24.49,8.14e-8],
        [24.95,1.17e-7],[24.31,6.28e-8],
        [25.63,1.2e-7],[25.27,9.37e-8],[25.91,1.52e-7],[25.08,7.78e-8],[25.44,1.62e-7],[25.76,1.1e-7],[25.19,1.24e-7],
        [25.55,7.36e-8],
        [26.63,1.37e-7],[26.27,1.07e-7],[26.91,1.74e-7],[26.08,8.9e-8],[26.44,1.85e-7],[26.76,1.26e-7],[26.19,1.42e-7],
        [26.55,8.6e-8],
        [27.63,1.58e-7],[27.27,1.23e-7],[27.91,2.0e-7],[27.08,1.02e-7],[27.44,2.12e-7],[27.76,1.44e-7],[27.19,1.63e-7],
        [27.55,9.9e-8],
        [28.63,1.83e-7],[28.27,1.43e-7],[28.91,2.32e-7],[28.08,1.19e-7],[28.44,2.46e-7],[28.76,1.68e-7],[28.19,1.9e-7],
        [28.55,1.2e-7],
        [29.63,2.09e-7],[29.27,1.63e-7],[29.91,2.64e-7],[29.08,1.35e-7],[29.44,2.8e-7],[29.76,1.91e-7],[29.19,2.16e-7],
        [29.55,1.4e-7]
    ];

    // axis ticks
    var xMajorTicks = [10];
    var xMinorTicks = [9, 20, 30];
    var yDecades = [1e-10, 1e-9, 1e-8, 1e-7, 1e-6];
    var yDecadeExp = ["-10", "-9", "-8", "-7", "-6"];
    var minorMult = [2, 3, 4, 5, 6, 7, 8, 9];

    var legendLabels = ["Pontos experimentais", "Pontos médios", "Pontos inferiores, ", "Pontos superiores, "];

    var w = 926, h = 758;
    var margin = {top: 29, left: 114},
        plotW = 824,
        plotH = 640;

    var serif = "'Liberation Serif', 'Times New Roman', serif";
    var sans = "'Liberation Sans', Arial, Helvetica, sans-serif";

    var svg = d3.select("body").append("svg")
        .attr("width", w)
        .attr("height", h);

    var xScale = d3.scaleLog()
        .domain([8, 40])
        .range([margin.left, margin.left + plotW]);

    var yScale = d3.scaleLog()
        .domain([1e-10, 1e-6])
        .range([margin.top + plotH, margin.top]);

    var yMinorTicks = [];
    yDecades.slice(0, 4).forEach(function (d) {
        minorMult.forEach(function (m) { yMinorTicks.push(d * m); });
    });

    //dotted grid
    var gridX = svg.append("g")
        .attr("transform", "translate(0," + (margin.top + plotH) + ")")
        .call(d3.axisBottom(xScale).tickValues(xMajorTicks.concat(xMinorTicks)).tickSize(-plotH).tickFormat(""));
    var gridY = svg.append("g")
        .attr("transform", "translate(" + margin.left + ",0)")
        .call(d3.axisLeft(yScale).tickValues(yDecades.concat(yMinorTicks)).tickSize(-plotW).tickFormat(""));
    [gridX, gridY].forEach(function (g) {
        g.select(".domain").remove();
        g.selectAll("line")
            .attr("stroke", "#000")
            .attr("stroke-width", 1)
            .attr("stroke-dasharray", "1.2,10")
            .attr("shape-rendering", "crispEdges");
    });

    //ticks inside the box
    function tickGroup(axis, tx, ty) {
        var g = svg.append("g")
            .attr("transform", "translate(" + tx + "," + ty + ")")
            .call(axis);
        g.select(".domain").remove();
        g.selectAll("line").attr("stroke", "#000").attr("stroke-width", 1.3);
        return g;
    }
    tickGroup(d3.axisBottom(xScale).tickValues(xMajorTicks).tickSize(-9).tickFormat(""), 0, margin.top + plotH);
    tickGroup(d3.axisBottom(xScale).tickValues(xMinorTicks).tickSize(-5).tickFormat(""), 0, margin.top + plotH);
    tickGroup(d3.axisTop(xScale).tickValues(xMajorTicks).tickSize(-9).tickFormat(""), 0, margin.top);
    tickGroup(d3.axisTop(xScale).tickValues(xMinorTicks).tickSize(-5).tickFormat(""), 0, margin.top);
    tickGroup(d3.axisLeft(yScale).tickValues(yDecades).tickSize(-9).tickFormat(""), margin.left, 0);
    tickGroup(d3.axisLeft(yScale).tickValues(yMinorTicks).tickSize(-5).tickFormat(""), margin.left, 0);

    //box
    svg.append("rect")
        .attr("x", margin.left)
        .attr("y", margin.top)
        .attr("width", plotW)
        .attr("height", plotH)
        .attr("fill", "none")
        .attr("stroke", "#000")
        .attr("stroke-width", 1.6);

    //y tick labels 10^n
    var yLab = svg.append("g").selectAll("text")
        .data(yDecades)
        .enter()
        .append("text")
        .attr("x", 96)
        .attr("y", function (d) { return yScale(d) + 7; })
        .attr("text-anchor", "end")
        .style("font-family", sans)
        .style("font-weight", "bold")
        .style("font-size", "23px");
    yLab.append("tspan").text("10");
    yLab.append("tspan")
        .attr("dy", -10)
        .style("font-size", "16px")
        .text(function (d, i) { return yDecadeExp[i]; });

    //x tick label
    var xLab = svg.append("g").selectAll("text")
        .data(xMajorTicks)
        .enter()
        .append("text")
        .attr("x", function (d) { return xScale(d); })
        .attr("y", 708)
        .attr("text-anchor", "middle")
        .style("font-family", sans)
        .style("font-weight", "bold")
        .style("font-size", "23px");
    xLab.append("tspan").text("10");
    xLab.append("tspan").attr("dy", -10).style("font-size", "16px").text("1");

    //axis titles
    var xTitle = svg.append("text")
        .attr("x", 524)
        .attr("y", 745)
        .attr("text-anchor", "middle")
        .style("font-family", serif)
        .style("font-size", "30px");
    xTitle.append("tspan").text("\u0394");
    xTitle.append("tspan").style("font-style", "italic").text("K");
    xTitle.append("tspan").attr("dy", 6).style("font-style", "italic").style("font-size", "21px").text("I");
    xTitle.append("tspan").attr("dy", -6).text(" [MPa.m");
    xTitle.append("tspan").attr("dy", -11).style("font-size", "21px").text("1/2");
    xTitle.append("tspan").attr("dy", 11).text("]");

    var yTitle = svg.append("text")
        .attr("transform", "translate(38," + (margin.top + plotH / 2) + ") rotate(-90)")
        .attr("text-anchor", "middle")
        .style("font-family", serif)
        .style("font-size", "30px");
    yTitle.append("tspan").style("font-style", "italic").text("da/dN");
    yTitle.append("tspan").text(" [m/ciclos]");

    //data
    var plot = svg.append("g");

    var allExp = expLow.concat(exp10to13, exp13to16, exp16to20, exp20to25, exp25to30, exp30to37, expDense, expDense2);

    plot.selectAll("circle.exp")
        .data(allExp)
        .enter()
        .append("circle")
        .attr("class", "exp")
        .attr("cx", function (d) { return xScale(d[0]); })
        .attr("cy", function (d) { return yScale(d[1]); })
        .attr("r", 3.6)
        .attr("fill", "#000");

    plot.selectAll("circle.mean")
        .data(meanVals)
        .enter()
        .append("circle")
        .attr("class", "mean")
        .attr("cx", function (d, i) { return xScale(dkBins[i]); })
        .attr("cy", function (d) { return yScale(d); })
        .attr("r", 2.6)
        .attr("fill", "#ff0000");

    plot.selectAll("circle.low")
        .data(lowerVals)
        .enter()
        .append("circle")
        .attr("class", "low")
        .attr("cx", function (d, i) { return xScale(dkBins[i]); })
        .attr("cy", function (d) { return yScale(d); })
        .attr("r", 7.2)
        .attr("fill", "none")
        .attr("stroke", "#0000ff")
        .attr("stroke-width", 5.4);

    var sq = 11.6;
    plot.selectAll("rect.up")
        .data(upperVals)
        .enter()
        .append("rect")
        .attr("class", "up")
        .attr("x", function (d, i) { return xScale(dkBins[i]) - sq / 2; })
        .attr("y", function (d) { return yScale(d) - sq / 2; })
        .attr("width", sq)
        .attr("height", sq)
        .attr("fill", "none")
        .attr("stroke", "#00ff00")
        .attr("stroke-width", 6.4);

    //legend
    var leg = svg.append("g");
    leg.append("rect")
        .attr("x", 132.5)
        .attr("y", 45.5)
        .attr("width", 385.5)
        .attr("height", 158)
        .attr("fill", "#fff")
        .attr("stroke", "#000")
        .attr("stroke-width", 1.6);

    var rowY = [70, 107, 145, 182];
    var mx = 187;
    leg.append("circle").attr("cx", mx).attr("cy", rowY[0]).attr("r", 3.4).attr("fill", "#000");
    leg.append("circle").attr("cx", mx).attr("cy", rowY[1]).attr("r", 2.6).attr("fill", "#ff0000");
    leg.append("circle").attr("cx", mx).attr("cy", rowY[2]).attr("r", 7.2)
        .attr("fill", "none").attr("stroke", "#0000ff").attr("stroke-width", 5.4);
    leg.append("rect").attr("x", mx - sq / 2).attr("y", rowY[3] - sq / 2).attr("width", sq).attr("height", sq)
        .attr("fill", "none").attr("stroke", "#00ff00").attr("stroke-width", 6.4);

    var legText = leg.selectAll("text")
        .data(legendLabels)
        .enter()
        .append("text")
        .attr("x", 232)
        .attr("y", function (d, i) { return rowY[i] + 10; })
        .style("font-family", serif)
        .style("font-size", "30px");
    legText.append("tspan").text(function (d) { return d; });
    legText.filter(function (d, i) { return i >= 2; })
        .append("tspan")
        .style("font-style", "italic")
        .text("k=2");

</script>
</body>
</html>
